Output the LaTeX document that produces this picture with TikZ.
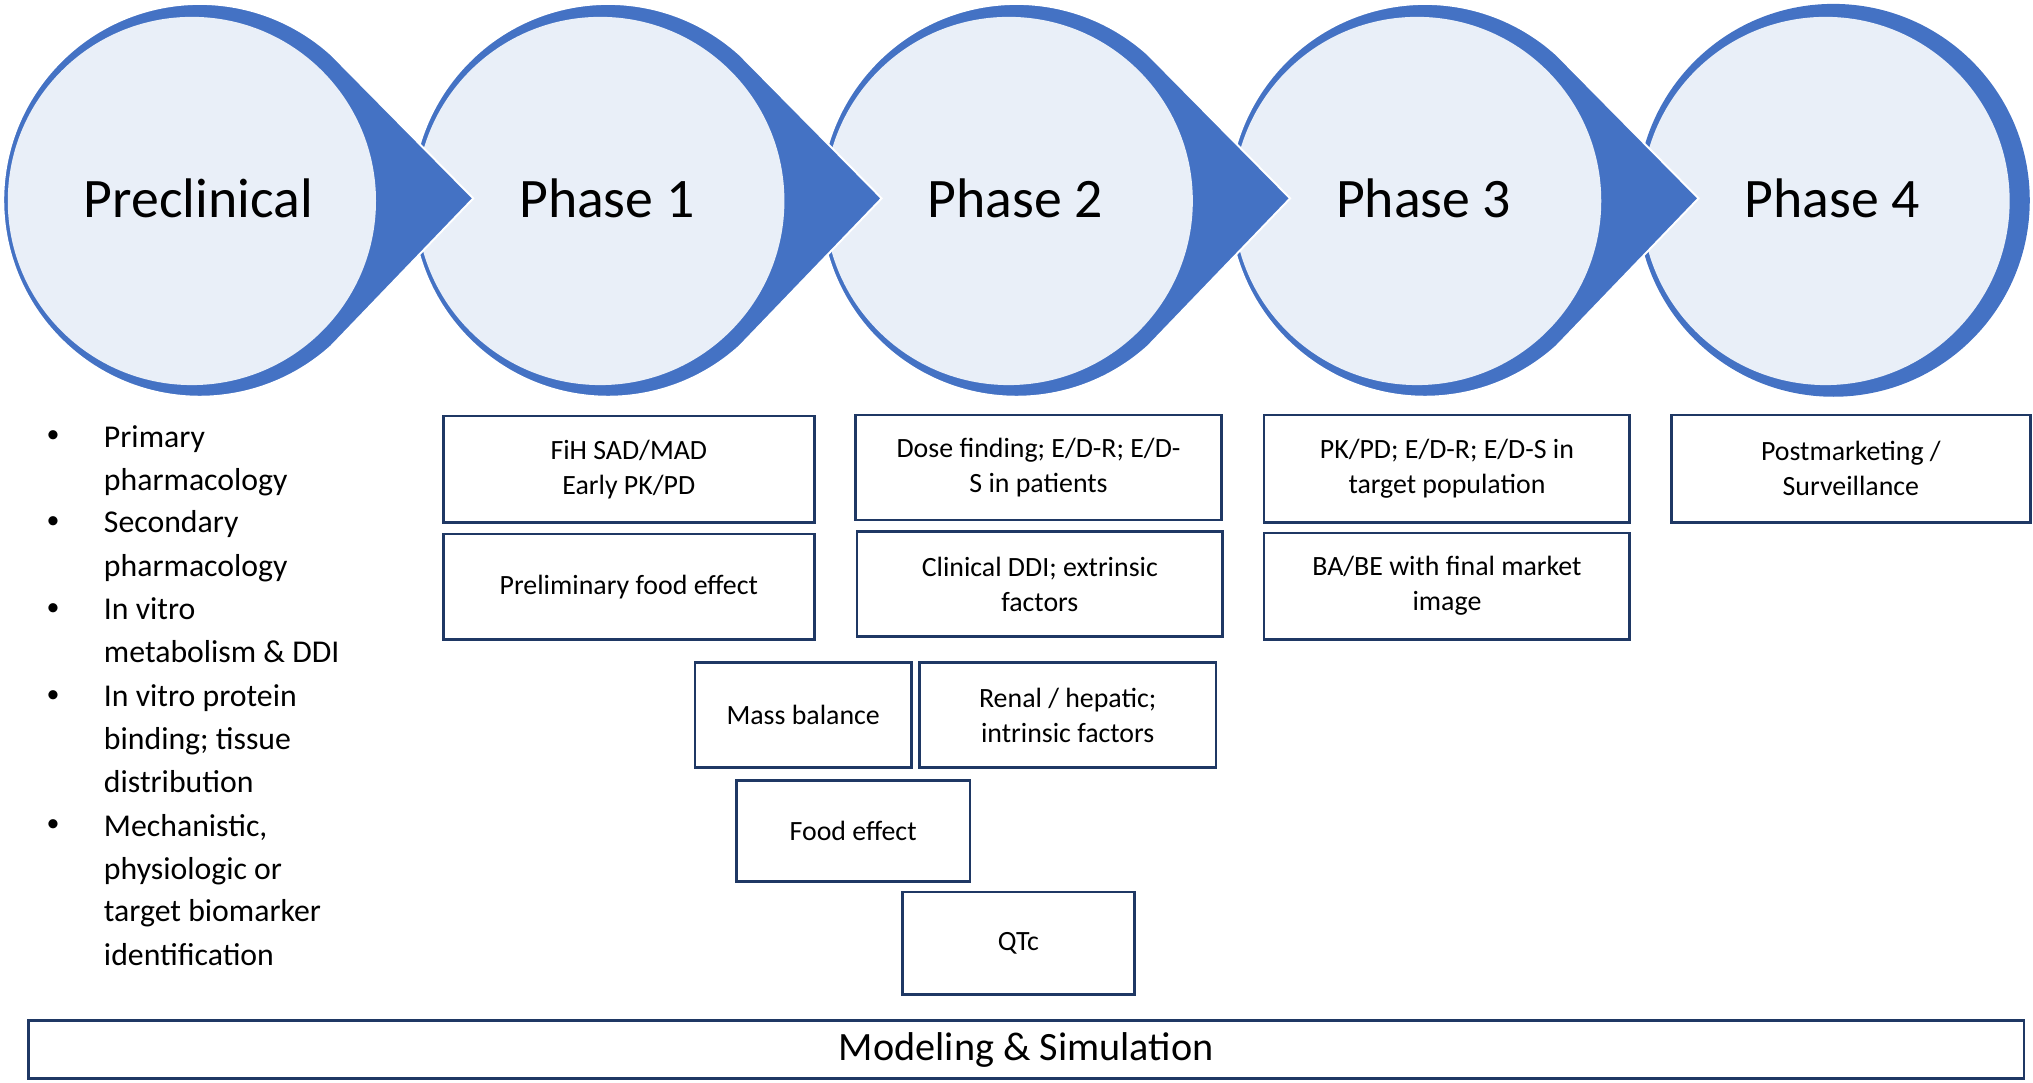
\documentclass[tikz,border=0pt]{standalone}
\usepackage{fontspec}
\setmainfont{Carlito}
\usetikzlibrary{calc}
\definecolor{cblue}{HTML}{4472C4}
\definecolor{cfill}{HTML}{E9EFF8}
\definecolor{navy}{HTML}{1F3864}
\begin{document}
\begin{tikzpicture}[x=1pt,y=-1pt,
  box/.style={draw=navy,line width=2pt,align=center,font=\fontsize{21.5}{27}\selectfont,inner sep=0pt},
  ptitle/.style={font=\fontsize{43}{48}\selectfont}]
\useasboundingbox (0,0) rectangle (1568,835);
% phases drawn right to left
\foreach \i/\t/\arr in {4/Phase 4/0,3/Phase 3/1,2/Phase 2/1,1/Phase 1/1,0/Preclinical/1}{
  \pgfmathsetmacro{\cx}{152+315*\i}
  \coordinate (c\i) at (\cx+2,154.5);
  \coordinate (tip\i) at (\cx+213,153);
  \ifnum\arr=1
    \fill[cblue,draw=white,line width=1.5pt] ($(c\i)+(48:151.5pt)$) arc[start angle=48,end angle=312,radius=151.5pt] -- (tip\i) -- cycle;
  \else
    \fill[cblue] (c\i) circle[radius=151.5pt];
  \fi
  \fill[cfill] (\cx-4,155) circle[radius=142pt];
  \node[ptitle] (p\i) at (\cx+1,153) {\t};
}
% bullets
\foreach \y/\t in {337/Primary,370/pharmacology,403/Secondary,437/pharmacology,470/In vitro,503/metabolism \& DDI,537/In vitro protein,570/binding; tissue,603/distribution,637/{Mechanistic,},670/physiologic or,703/target biomarker,737/identification}{
  \node[anchor=base west,font=\fontsize{24.5}{28}\selectfont,inner sep=0pt] at (80,\y+8) {\t};
}
\foreach \y in {337,403,470,537,637}{
  \node[font=\fontsize{20}{26}\selectfont,inner sep=0pt] at (41,\y) {\textbullet};
}
% boxes
\node[box,minimum width=286pt,minimum height=82pt] (b1) at (485,362) {FiH SAD/MAD\\Early PK/PD};
\node[box,minimum width=286pt,minimum height=81pt] (b2) at (485,452.5) {Preliminary food effect};
\node[box,minimum width=282pt,minimum height=81pt] (b3) at (801,360.5) {Dose finding; E/D-R; E/D-\\S in patients};
\node[box,minimum width=282pt,minimum height=81pt] (b4) at (802,450.5) {Clinical DDI; extrinsic\\factors};
\node[box,minimum width=167pt,minimum height=81pt] (b5) at (619.5,551.5) {Mass balance};
\node[box,minimum width=229pt,minimum height=81pt] (b6) at (823.5,551.5) {Renal / hepatic;\\intrinsic factors};
\node[box,minimum width=180pt,minimum height=78pt] (b7) at (658,641) {Food effect};
\node[box,minimum width=179pt,minimum height=79pt] (b8) at (785.5,727.5) {QTc};
\node[box,minimum width=282pt,minimum height=83pt] (b9) at (1116,361.5) {PK/PD; E/D-R; E/D-S in\\target population};
\node[box,minimum width=282pt,minimum height=82pt] (b10) at (1116,452) {BA/BE with final market\\image};
\node[box,minimum width=277pt,minimum height=83pt] (b11) at (1427.5,361.5) {Postmarketing /\\Surveillance};
\node[box,minimum width=1539pt,minimum height=45pt,font=\fontsize{31}{34}\selectfont] (ms) at (791.5,809.5) {Modeling \& Simulation};
\end{tikzpicture}
\end{document}
